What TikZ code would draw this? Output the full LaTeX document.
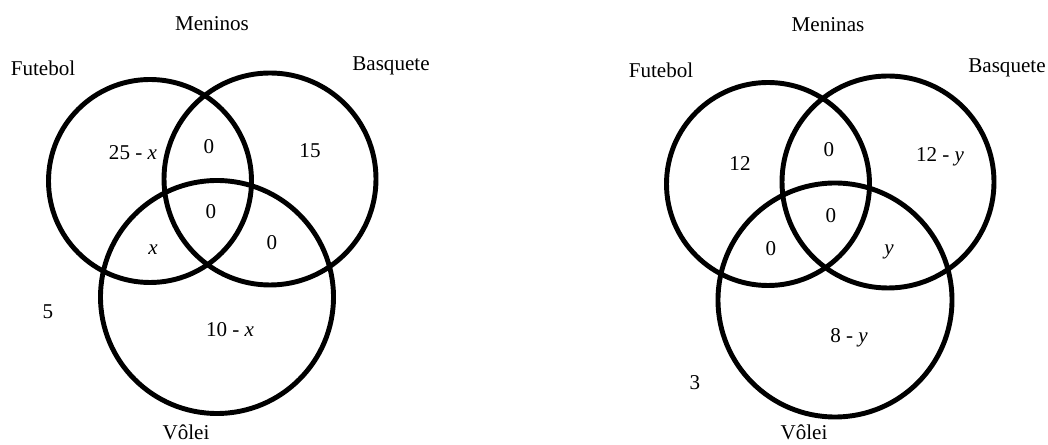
\documentclass[tikz,border=0pt]{standalone}
\usepackage{fontspec}
\setmainfont{Liberation Serif}
\begin{document}
\begin{tikzpicture}[x=0.02cm, y=-0.02cm,
  ring/.style={circle, draw=black, line width=2.8pt, inner sep=0pt, outer sep=0pt},
  lbl/.style={inner sep=0pt, text depth=0pt, font=\fontsize{12}{14}\selectfont}]
\useasboundingbox (0,0) rectangle (1048,445);
% Meninos
\node[ring, minimum size=203*0.02cm] (fa) at (150,181) {};
\node[ring, minimum size=212*0.02cm] (ba) at (270,179) {};
\node[ring, minimum size=233*0.02cm] (va) at (217,297) {};
\node[lbl] (ta) at (212,24) {Meninos};
\node[lbl] (fla) at (43,68) {Futebol};
\node[lbl] (bla) at (391,64) {Basquete};
\node[lbl] (vla) at (186,432) {Vôlei};
\node[lbl] (a1) at (133,153) {25 - \textit{x}};
\node[lbl] (a2) at (209,146) {0};
\node[lbl] (a3) at (310,151) {15};
\node[lbl] (a4) at (211,211) {0};
\node[lbl] (a5) at (153,250) {\textit{x}};
\node[lbl] (a6) at (272,242) {0};
\node[lbl] (a7) at (48,312) {5};
\node[lbl] (a8) at (230,329) {10 - \textit{x}};
% Meninas
\node[ring, minimum size=203*0.02cm] (fb) at (768,184) {};
\node[ring, minimum size=212*0.02cm] (bb) at (888,182) {};
\node[ring, minimum size=234*0.02cm] (vb) at (835,300) {};
\node[lbl] (tb) at (828,25) {Meninas};
\node[lbl] (flb) at (661,70) {Futebol};
\node[lbl] (blb) at (1007,66) {Basquete};
\node[lbl] (vlb) at (804,432) {Vôlei};
\node[lbl] (b1) at (740,164) {12};
\node[lbl] (b2) at (829,149) {0};
\node[lbl] (b3) at (940,155) {12 - \textit{y}};
\node[lbl] (b4) at (831,215) {0};
\node[lbl] (b5) at (771,248) {0};
\node[lbl] (b6) at (889,250) {\textit{y}};
\node[lbl] (b7) at (695,383) {3};
\node[lbl] (b8) at (849,335) {8 - \textit{y}};
\end{tikzpicture}
\end{document}
